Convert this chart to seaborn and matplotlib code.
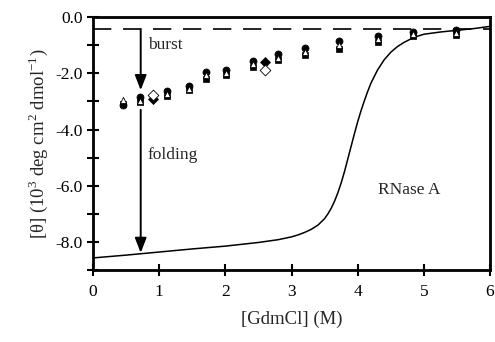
import matplotlib
matplotlib.use("Agg")
import matplotlib.pyplot as plt
import seaborn as sns
import pandas as pd

# --- DATA ---
gdm_pts = [0.45, 0.71, 1.11, 1.45, 1.71, 2.01, 2.41, 2.80, 3.20, 3.71, 4.30, 4.84, 5.49]
theta_circle = [-3.13, -2.86, -2.62, -2.46, -1.95, -1.89, -1.57, -1.32, -1.11, -0.84, -0.68, -0.52, -0.46]
theta_triangle = [-2.95, -2.97, -2.73, -2.56, -2.07, -2.00, -1.68, -1.44, -1.24, -0.98, -0.79, -0.60, -0.55]
theta_square = [-3.08, -3.02, -2.82, -2.60, -2.20, -2.07, -1.76, -1.54, -1.36, -1.14, -0.87, -0.66, -0.62]

gdm_diamond = [0.90, 2.60]
theta_open_diamond = [-2.78, -1.89]
theta_filled_diamond = [-2.93, -1.61]

# equilibrium unfolding curve
gdm_curve = [0.0, 0.5, 1.0, 1.5, 2.0, 2.5, 2.8, 3.0, 3.1, 3.2, 3.3, 3.4, 3.5, 3.55, 3.6,
             3.65, 3.7, 3.75, 3.8, 3.85, 3.9, 3.95, 4.0, 4.05, 4.1, 4.15, 4.2, 4.3, 4.4,
             4.5, 4.6, 4.7, 4.85, 5.0, 5.25, 5.5, 5.75, 6.0]
theta_curve = [-8.57, -8.47, -8.36, -8.25, -8.15, -8.02, -7.92, -7.82, -7.75, -7.66, -7.55,
               -7.40, -7.17, -7.00, -6.80, -6.55, -6.25, -5.90, -5.50, -5.05, -4.60, -4.15,
               -3.72, -3.33, -2.98, -2.65, -2.35, -1.88, -1.52, -1.25, -1.05, -0.90, -0.72,
               -0.61, -0.53, -0.47, -0.41, -0.33]

burst_level = -0.43
arrow_x = 0.72

sns.set_style("ticks")
plt.rcParams["font.family"] = ["Liberation Serif", "DejaVu Serif"]
plt.rcParams["mathtext.fontset"] = "custom"
plt.rcParams["mathtext.rm"] = "Liberation Serif"

fig = plt.figure(figsize=(4.95, 3.42), dpi=100)
ax = fig.add_axes([0.188, 0.2105, 0.802, 0.7395])

curve = pd.DataFrame({"x": gdm_curve, "y": theta_curve})
sns.lineplot(data=curve, x="x", y="y", color="black", lw=1.1, ax=ax, sort=False)

ax.axhline(burst_level, color="black", lw=1.2, dashes=(11, 7))

sns.scatterplot(x=gdm_pts, y=theta_square, marker="s", s=20, color="black",
                edgecolor="black", linewidth=0.5, ax=ax, zorder=3)
sns.scatterplot(x=gdm_pts, y=theta_circle, marker="o", s=26, color="black",
                edgecolor="black", linewidth=0.5, ax=ax, zorder=4)
sns.scatterplot(x=gdm_pts, y=theta_triangle, marker="^", s=20, color="white",
                edgecolor="black", linewidth=0.6, ax=ax, zorder=5)
sns.scatterplot(x=gdm_diamond, y=theta_filled_diamond, marker="D", s=26, color="black",
                edgecolor="black", linewidth=0.5, ax=ax, zorder=4)
sns.scatterplot(x=gdm_diamond, y=theta_open_diamond, marker="D", s=30, color="white",
                edgecolor="black", linewidth=0.6, ax=ax, zorder=6)

# burst and folding arrows
arrow_props = dict(arrowstyle="-|>,head_length=0.9,head_width=0.35", color="black",
                   lw=1.4, shrinkA=0, shrinkB=0)
ax.annotate("", xy=(arrow_x, -2.6), xytext=(arrow_x, burst_level), arrowprops=arrow_props)
ax.annotate("", xy=(arrow_x, -8.39), xytext=(arrow_x, -3.3), arrowprops=arrow_props)

ax.text(0.83, -1.0, "burst", fontsize=12.5, va="center", ha="left")
ax.text(0.83, -4.91, "folding", fontsize=12.5, va="center", ha="left")
ax.text(4.3, -6.16, "RNase A", fontsize=12.5, va="center", ha="left")

ax.set_xlim(0, 6)
ax.set_ylim(-9, 0)
ax.set_xticks(range(0, 7))
ax.set_yticks([-8, -6, -4, -2, 0])
ax.set_yticks(range(-9, 1), minor=True)
ax.set_yticklabels(["-8.0", "-6.0", "-4.0", "-2.0", "0.0"])

ax.tick_params(axis="both", which="both", direction="inout", width=1.5, labelsize=12.5,
               colors="black")
ax.tick_params(axis="both", which="major", length=8)
ax.tick_params(axis="y", which="minor", length=8)
ax.tick_params(axis="x", pad=6)

for side in ["left", "bottom", "right", "top"]:
    ax.spines[side].set_visible(True)
    ax.spines[side].set_linewidth(2.0)
    ax.spines[side].set_color("black")

ax.set_xlabel("[GdmCl] (M)", fontsize=13.5, labelpad=8)
ax.set_ylabel("[θ] (10$^{3}$ deg cm$^{2}$ dmol$^{-1}$)", fontsize=13.5, labelpad=4)

fig.savefig("out.png", dpi=100)
